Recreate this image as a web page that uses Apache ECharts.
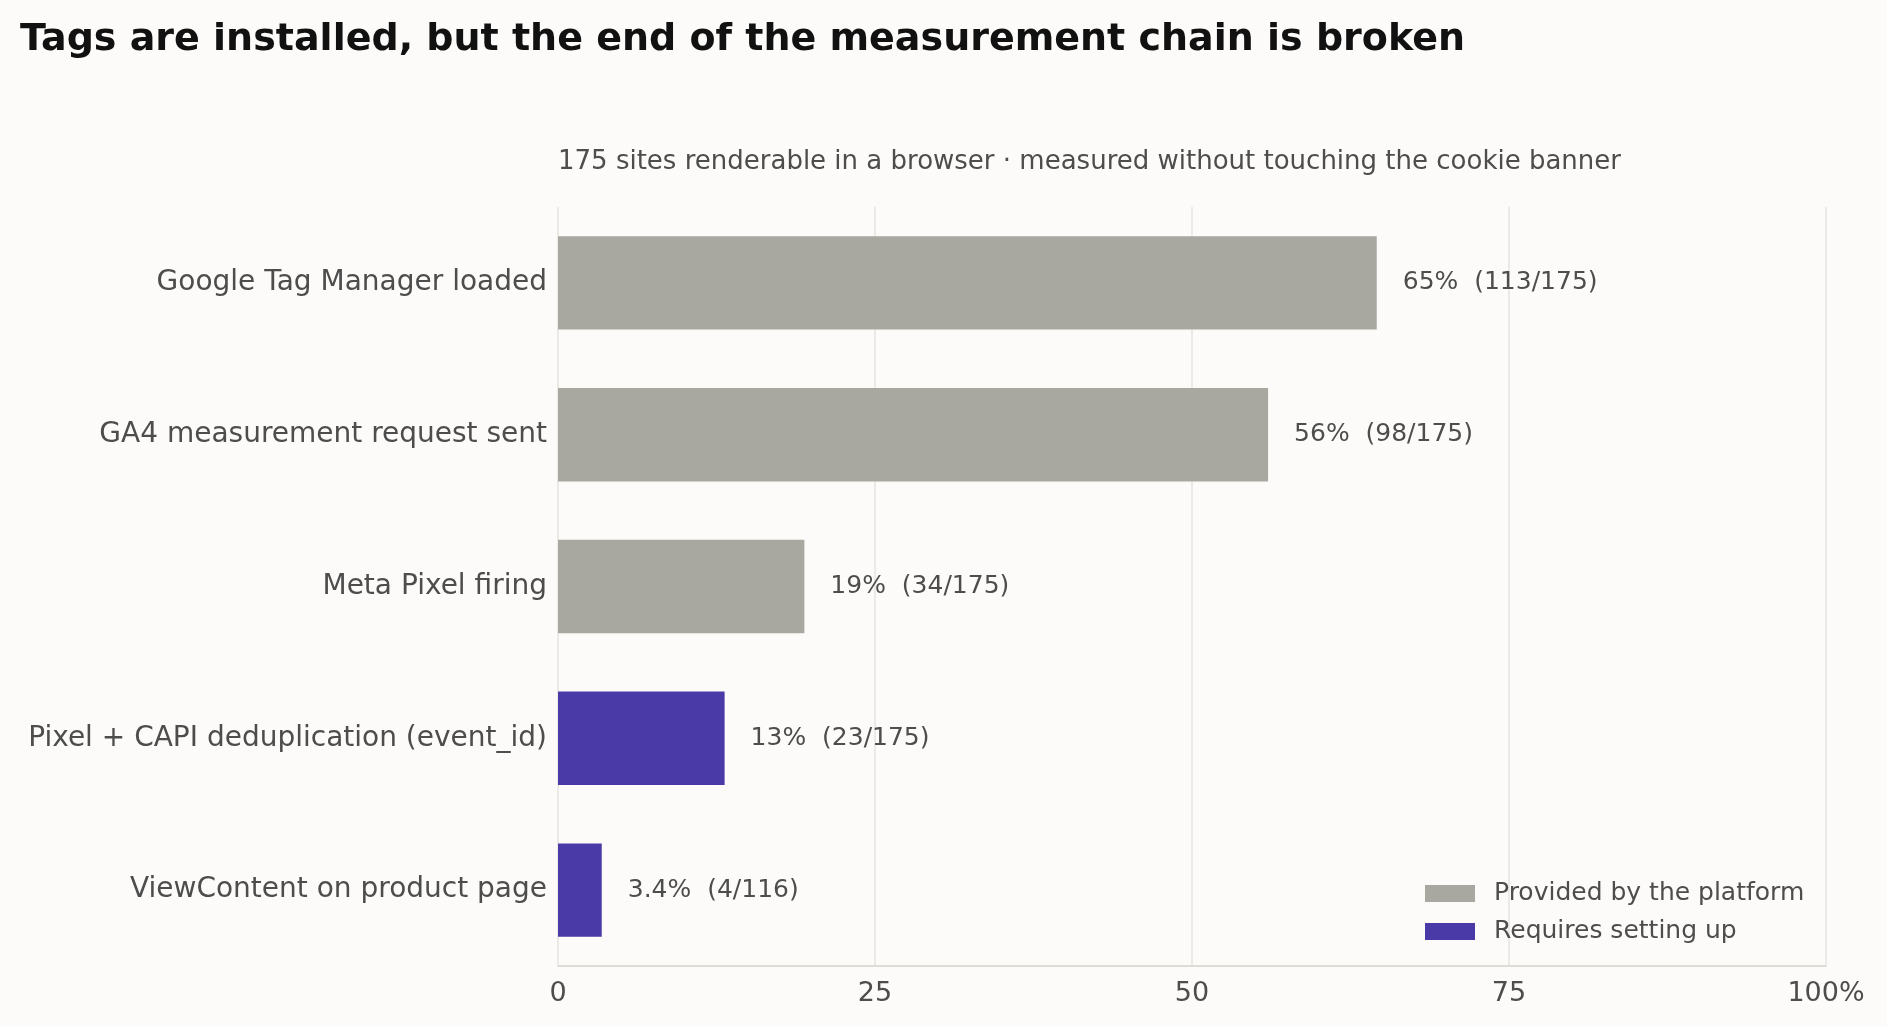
<!DOCTYPE html>
<html>
<head>
<meta charset="utf-8">
<script src="https://cdn.jsdelivr.net/npm/echarts@6/dist/echarts.min.js"></script>
<style>
    html, body { margin: 0; padding: 0; background: #fcfbf9; }
    #chart { width: 1887px; height: 1027px; }
</style>
</head>
<body>
<div id="chart"></div>
<script>
// chart data
const categories = [
    'Google Tag Manager loaded',
    'GA4 measurement request sent',
    'Meta Pixel firing',
    'Pixel + CAPI deduplication (event_id)',
    'ViewContent on product page'
];
const platformValues = [64.57, 56.0, 19.43, '-', '-'];
const setupValues = ['-', '-', '-', 13.14, 3.45];
const valueLabels = [
    '65%  (113/175)',
    '56%  (98/175)',
    '19%  (34/175)',
    '13%  (23/175)',
    '3.4%  (4/116)'
];
const xTicks = [0, 25, 50, 75, 100];

const textColor = '#4d4d4d';
const fontFamily = 'DejaVu Sans';

var chart = echarts.init(document.getElementById('chart'));

function barLabel() {
    return {
        show: true,
        position: 'right',
        distance: 26,
        color: textColor,
        fontSize: 25,
        fontFamily: fontFamily,
        formatter: function(p) {
            return valueLabels[p.dataIndex];
        }
    };
}

var option = {
    backgroundColor: '#fcfbf9',
    animation: false,
    textStyle: { fontFamily: fontFamily },
    title: [
        {
            text: 'Tags are installed, but the end of the measurement chain is broken',
            left: 20,
            top: 21,
            padding: 0,
            textStyle: {
                fontFamily: fontFamily,
                fontSize: 38,
                fontWeight: 'bold',
                color: '#111111'
            }
        },
        {
            text: '175 sites renderable in a browser \u00b7 measured without touching the cookie banner',
            left: 558,
            top: 149,
            padding: 0,
            textStyle: {
                fontFamily: fontFamily,
                fontSize: 26,
                fontWeight: 'normal',
                color: textColor
            }
        }
    ],
    legend: {
        orient: 'vertical',
        left: 1425,
        top: 881,
        padding: 0,
        itemWidth: 50,
        itemHeight: 17,
        itemGap: 13,
        icon: 'rect',
        textStyle: {
            fontFamily: fontFamily,
            fontSize: 25,
            color: textColor,
            padding: [0, 0, 0, 14]
        },
        data: ['Provided by the platform', 'Requires setting up']
    },
    grid: {
        left: 558,
        right: 61,
        top: 207,
        bottom: 61,
        containLabel: false
    },
    xAxis: {
        type: 'value',
        min: 0,
        max: 100,
        interval: 25,
        axisLine: {
            show: true,
            lineStyle: { color: '#dddcd6', width: 2 }
        },
        axisTick: { show: false },
        axisLabel: {
            color: textColor,
            fontSize: 27,
            fontFamily: fontFamily,
            margin: 14,
            formatter: function(v) {
                return v === xTicks[xTicks.length - 1] ? v + '%' : String(v);
            }
        },
        splitLine: {
            show: true,
            lineStyle: { color: '#e6e5e0', width: 1.5 }
        }
    },
    yAxis: {
        type: 'category',
        inverse: true,
        data: categories,
        axisLine: { show: false },
        axisTick: { show: false },
        axisLabel: {
            color: textColor,
            fontSize: 28,
            fontFamily: fontFamily,
            margin: 11
        }
    },
    series: [
        {
            name: 'Provided by the platform',
            type: 'bar',
            stack: 'all',
            barCategoryGap: '38.5%',
            itemStyle: { color: '#a8a7a0' },
            label: barLabel(),
            data: platformValues
        },
        {
            name: 'Requires setting up',
            type: 'bar',
            stack: 'all',
            barCategoryGap: '38.5%',
            itemStyle: { color: '#4a3aa7' },
            label: barLabel(),
            data: setupValues
        }
    ]
};

chart.setOption(option);
</script>
</body>
</html>
